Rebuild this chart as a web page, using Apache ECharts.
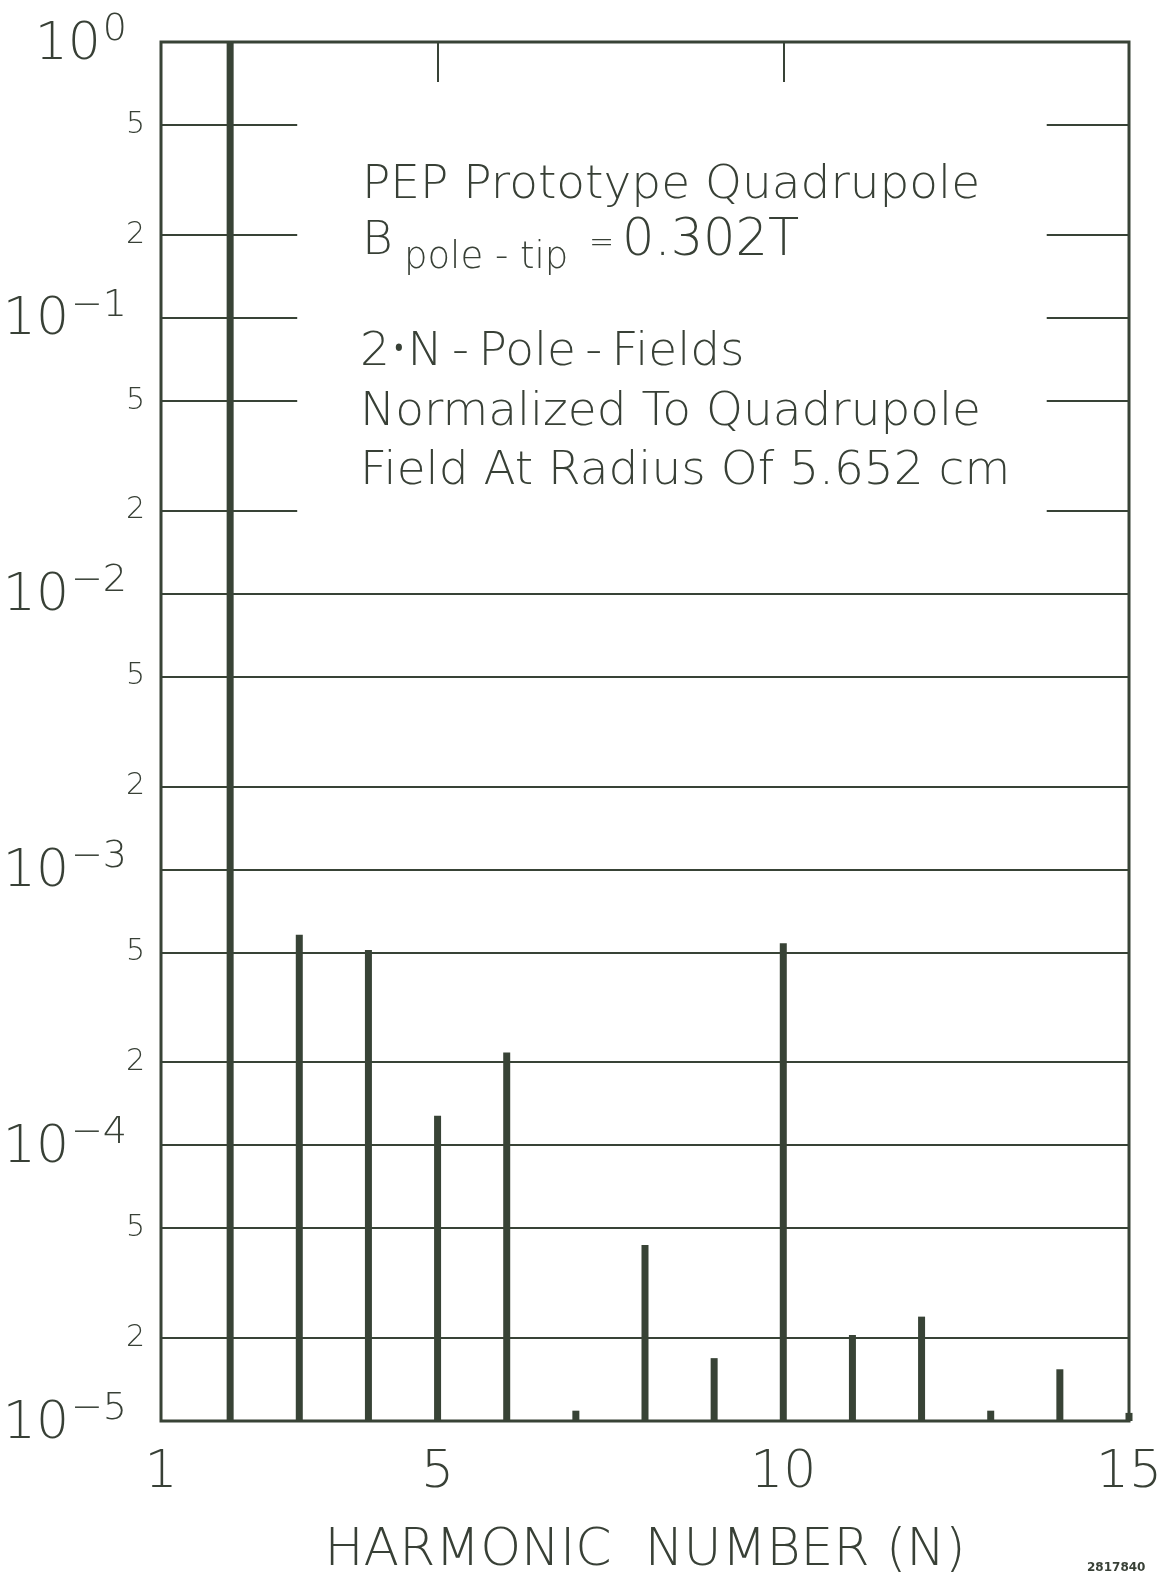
<!DOCTYPE html>
<html><head><meta charset="utf-8">
<script src="https://cdn.jsdelivr.net/npm/echarts@6/dist/echarts.min.js"></script>
<style>html,body{margin:0;padding:0;background:#ffffff;}#chart{width:1161px;height:1586px;}</style>
</head><body><div id="chart"></div>
<script>
// ---- data ----
const harmonicNumbers = [2, 3, 4, 5, 6, 7, 8, 9, 10, 11, 12, 13, 14, 15];
const normalizedField = [1.0, 5.8e-4, 5.1e-4, 1.28e-4, 2.17e-4, 1.09e-5, 4.35e-5, 1.69e-5, 5.4e-4, 2.05e-5, 2.39e-5, 1.09e-5, 1.54e-5, 1.07e-5];
const xTickLabels = [1, 5, 10, 15];
const topTickValues = [5, 10];
const yDecadeExponents = [0, -1, -2, -3, -4, -5];
const interruptedGridValues = [0.5, 0.2, 0.1, 0.05, 0.02];
const fullGridValues = [1e-2, 5e-3, 2e-3, 1e-3, 5e-4, 2e-4, 1e-4, 5e-5, 2e-5];
const xAxisTitle = 'HARMONIC  NUMBER (N)';
const annotationTitle = 'PEP Prototype Quadrupole';
const fieldSymbol = 'B';
const fieldSubscript = 'pole - tip';
const fieldValue = '0.302T';
const noteLines = ['2\u2022N\u2009-\u2009Pole\u2009-\u2009Fields', 'Normalized To Quadrupole', 'Field At Radius Of 5.652 cm'];
const figureId = '2817840';

// ---- styling ----
const INK = '#384336';
const TXT = '#384036';
const FONT = '"DejaVu Sans", "Noto Sans", sans-serif';
const W = 200;
const GAP_FROM = 2.97, GAP_TO = 13.81; // where the interrupted grid lines stop / resume

function mantissa(v) {
  const e = Math.floor(Math.log10(v) + 1e-9);
  return Math.round(v / Math.pow(10, e));
}
const gridLines = [];
interruptedGridValues.forEach(v => {
  const m = mantissa(v);
  gridLines.push([{ coord: [1, v], name: m === 1 ? '' : String(m) }, { coord: [GAP_FROM, v] }]);
  gridLines.push([{ coord: [GAP_TO, v], name: '' }, { coord: [15, v] }]);
});
fullGridValues.forEach(v => {
  const m = mantissa(v);
  gridLines.push([{ coord: [1, v], name: m === 1 ? '' : String(m) }, { coord: [15, v] }]);
});

const chart = echarts.init(document.getElementById('chart'), null, { renderer: 'canvas' });
const option = {
  animation: false,
  backgroundColor: '#ffffff',
  grid: { left: 161, top: 42, width: 968, height: 1379, show: true, borderColor: INK, borderWidth: 3, backgroundColor: 'transparent', containLabel: false, outerBoundsMode: 'none' },
  xAxis: [{
    type: 'value', min: 1, max: 15, position: 'bottom',
    axisLine: { show: false }, axisTick: { show: false }, splitLine: { show: false },
    axisLabel: { customValues: xTickLabels, margin: 26, fontSize: 52, fontFamily: FONT, fontWeight: W, color: TXT },
    name: xAxisTitle, nameLocation: 'middle', nameGap: 104,
    nameTextStyle: { fontSize: 52, fontFamily: FONT, fontWeight: W, color: TXT, verticalAlign: 'top' }
  }, {
    type: 'value', min: 1, max: 15, position: 'top',
    axisLine: { show: false }, splitLine: { show: false }, axisLabel: { show: false },
    axisTick: { show: true, inside: true, length: 40, customValues: topTickValues, lineStyle: { color: INK, width: 2 } }
  }],
  yAxis: {
    type: 'log', logBase: 10, min: 1e-5, max: 1, interval: 1, startValue: 1e-5,
    axisLine: { show: false }, axisTick: { show: false }, splitLine: { show: false },
    axisLabel: {
      customValues: yDecadeExponents.map(e => Math.pow(10, e)),
      margin: 34, padding: [0, 0, 2, 0],
      formatter: v => {
        const e = Math.round(Math.log10(v));
        return '{b|10}{s|' + (e < 0 ? '\u2212' + (-e) : String(e)) + '}';
      },
      rich: {
        b: { fontSize: 52, fontFamily: FONT, fontWeight: W, color: TXT, verticalAlign: 'bottom' },
        s: { fontSize: 38, fontFamily: FONT, fontWeight: W, color: TXT, verticalAlign: 'top', padding: [0, 0, 22, 2] }
      }
    }
  },
  series: [{
    type: 'bar',
    data: harmonicNumbers.map((n, i) => [n, normalizedField[i]]),
    barWidth: 7,
    itemStyle: { color: INK },
    emphasis: { disabled: true },
    markLine: {
      silent: true, symbol: ['none', 'none'], animation: false,
      lineStyle: { color: INK, width: 2, type: 'solid' },
      label: { show: true, position: 'start', distance: 16, formatter: p => p.name, fontSize: 30, fontFamily: FONT, fontWeight: W, color: TXT },
      emphasis: { disabled: true },
      data: gridLines
    }
  }],
  graphic: [
    { type: 'text', x: 362, y: 186, style: { text: annotationTitle, fontSize: 47, fontFamily: FONT, fontWeight: W, fill: TXT, verticalAlign: 'middle' } },
    { type: 'text', x: 362, y: 242, style: { text: fieldSymbol, fontSize: 47, fontFamily: FONT, fontWeight: W, fill: TXT, verticalAlign: 'middle' } },
    { type: 'text', x: 404, y: 258, style: { text: fieldSubscript, fontSize: 37, fontFamily: FONT, fontWeight: W, fill: TXT, verticalAlign: 'middle' } },
    { type: 'text', x: 589, y: 244, style: { text: '=', fontSize: 30, fontFamily: FONT, fontWeight: W, fill: TXT, verticalAlign: 'middle' } },
    { type: 'text', x: 622, y: 242, style: { text: fieldValue, fontSize: 51, fontFamily: FONT, fontWeight: W, fill: TXT, verticalAlign: 'middle' } },
    { type: 'text', x: 360, y: 353, style: { text: noteLines[0], fontSize: 47, fontFamily: FONT, fontWeight: W, fill: TXT, verticalAlign: 'middle' } },
    { type: 'text', x: 360, y: 413, style: { text: noteLines[1], fontSize: 47, fontFamily: FONT, fontWeight: W, fill: TXT, verticalAlign: 'middle' } },
    { type: 'text', x: 360, y: 472, style: { text: noteLines[2], fontSize: 47, fontFamily: FONT, fontWeight: W, fill: TXT, verticalAlign: 'middle' } },
    { type: 'text', x: 1087, y: 1568, style: { text: figureId, fontSize: 12, fontFamily: FONT, fontWeight: 'bold', fill: TXT, verticalAlign: 'middle' } }
  ]
};
chart.setOption(option);
</script>
</body></html>
